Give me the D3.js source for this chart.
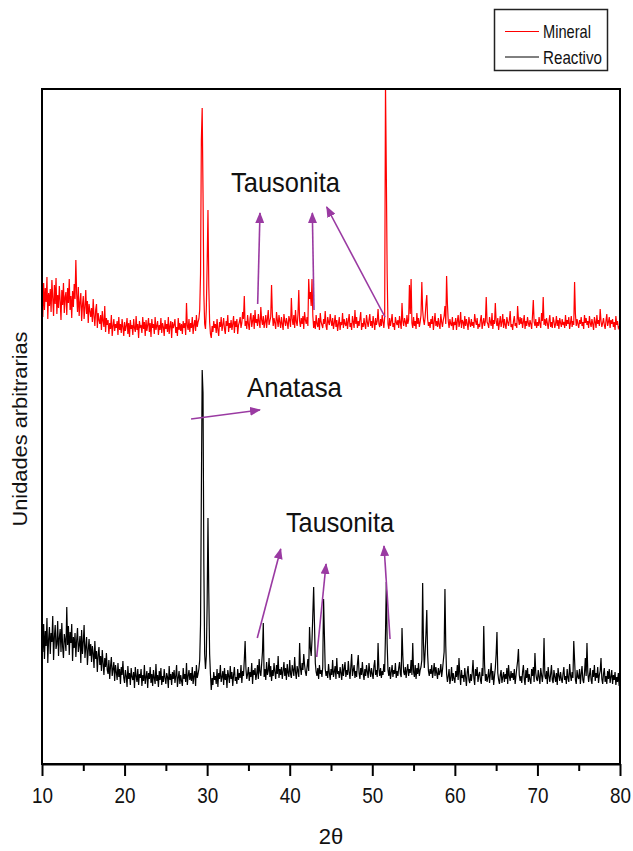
<!DOCTYPE html>
<html><head><meta charset="utf-8">
<script src="https://cdn.jsdelivr.net/npm/d3@7"></script>
<style>html,body{margin:0;padding:0;background:#fff;} svg{display:block}</style>
</head><body>
<svg id="chart" width="633" height="851"></svg>
<script>
// ---- data ----
const twoThetaStart = 10, twoThetaStep = 0.1;
const xDomain = [10, 80];
const xTicks = [10, 20, 30, 40, 50, 60, 70, 80];
const xMinorTicks = [15, 25, 35, 45, 55, 65, 75];
const seriesNames = ["Mineral", "Reactivo"];
const seriesColors = ["#ff0000", "#000000"];
const mineralOffset = 350;
const yDomain = [0, 675];

// Mineral (red), 10.0 .. 80.0 every 0.1
const mineral = [
118,97,131,104,126,112,137,95,121,108,
125,102,134,116,98,129,110,136,100,119,
106,128,113,94,124,109,131,101,117,122,
99,126,111,135,104,118,96,123,107,130,
115,154,120,102,127,98,112,121,93,109,
118,95,107,124,100,113,91,110,103,97,
106,92,115,98,88,104,110,86,101,94,
90,99,84,103,93,87,108,82,96,89,
94,80,91,85,99,78,88,95,83,90,
86,93,79,97,84,90,81,95,87,78,
92,83,88,96,80,91,77,94,85,89,
79,95,86,82,98,84,90,76,93,87,
88,81,97,85,92,78,94,83,89,96,
82,91,77,95,86,90,80,97,84,88,
93,79,89,84,96,81,91,87,78,94,
85,90,82,97,80,88,93,76,92,86,
89,95,81,87,78,96,84,91,83,90,
80,93,86,91,79,111,88,84,95,82,
91,86,97,80,89,94,83,99,87,92,
95,104,140,274,306,221,120,90,85,105,
150,204,128,92,80,76,88,82,93,86,
90,81,95,84,78,92,87,97,83,89,
96,85,80,93,88,99,82,91,86,94,
84,90,98,81,93,87,95,80,89,92,
97,86,91,102,95,118,88,93,85,99,
90,84,96,101,87,93,99,85,104,91,
95,88,100,92,86,107,94,89,98,86,
92,99,86,95,104,89,93,97,129,100,
88,96,91,85,102,94,87,99,92,86,
97,90,84,100,93,88,96,91,85,98,
94,87,116,95,89,99,86,104,92,88,
100,124,93,87,96,90,98,85,102,94,
90,97,88,135,115,122,108,135,98,86,
93,85,99,90,87,96,84,101,92,89,
86,95,90,103,88,84,97,92,89,100,
93,88,96,85,91,99,87,94,83,90,
97,84,92,89,101,86,95,90,88,96,
85,93,100,87,91,84,98,92,86,104,
90,97,86,93,88,95,102,84,91,87,
96,89,85,99,92,87,94,100,88,93,
86,98,91,84,96,89,93,105,90,87,
95,88,99,92,86,97,330,241,141,90,
85,96,88,93,100,87,91,84,97,92,
89,94,86,98,91,85,111,93,88,96,
92,87,99,90,94,129,100,135,91,86,
97,88,93,85,101,90,96,87,92,99,
132,104,94,89,97,110,119,95,88,92,
86,95,90,98,84,92,101,88,93,87,
96,89,85,100,92,87,94,98,108,90,
138,110,93,86,95,90,88,97,84,92,
89,96,84,93,99,87,91,102,86,94,
92,85,98,88,95,90,84,97,91,87,
95,88,92,86,100,93,89,96,85,90,
87,94,99,85,91,96,88,93,117,92,
90,86,97,92,88,101,85,94,90,111,
93,88,96,84,91,98,87,92,100,86,
95,89,85,97,92,88,94,103,87,90,
84,93,98,88,91,86,108,95,89,97,
90,96,86,92,99,85,93,88,97,91,
87,94,90,85,98,114,92,88,95,86,
92,88,97,90,86,101,93,117,89,95,
88,96,91,85,93,99,87,92,86,97,
93,86,90,98,88,94,85,96,91,87,
95,89,92,86,99,88,94,90,97,85,
91,98,87,93,89,132,100,88,95,90,
86,94,90,97,88,92,85,99,91,96,
89,93,86,98,91,87,95,90,84,97,
92,86,99,90,94,88,105,93,87,91,
96,89,85,93,100,88,92,97,86,94,
90,95,87,92,84,98,89,93,86,88,
80
];

// Reactivo (black), 10.0 .. 80.0 every 0.1
const reactivo = [
128,112,140,105,133,118,146,101,125,137,
110,131,122,148,104,127,139,115,120,143,
108,126,135,112,141,117,106,130,124,113,
157,119,138,109,132,121,140,103,127,116,
131,107,124,136,112,119,128,101,134,110,
122,139,106,117,127,99,114,125,108,120,
102,118,111,96,123,105,113,92,109,117,
99,108,93,114,101,89,106,97,111,94,
90,104,85,98,107,88,95,102,83,99,
92,84,101,87,95,80,97,89,103,86,
81,94,88,77,98,85,91,79,96,87,
84,92,76,97,88,82,95,79,90,86,
95,78,89,83,99,80,87,93,76,91,
85,97,81,90,78,94,86,80,100,83,
89,77,93,84,96,79,88,82,95,86,
80,91,87,76,98,84,90,79,92,85,
94,81,88,99,77,86,93,80,89,83,
78,96,85,90,82,101,79,88,94,84,
91,83,97,80,88,93,78,99,86,90,
95,104,140,272,394,371,200,110,95,108,
160,246,171,110,90,74,86,79,92,84,
88,80,95,77,91,85,99,82,87,93,
79,96,84,90,76,94,88,81,98,85,
92,78,89,97,83,87,80,95,84,91,
86,99,81,93,88,104,123,95,85,90,
97,83,92,87,101,80,94,89,96,84,
90,99,85,105,92,88,100,112,141,87,
95,84,102,89,93,106,87,98,83,94,
88,101,92,85,99,90,108,86,95,89,
97,85,93,102,88,96,84,100,91,87,
104,90,86,99,94,88,107,92,85,98,
93,87,121,96,89,101,94,110,99,92,
88,97,105,93,137,116,108,124,150,177,
140,101,92,88,96,85,99,90,94,87,
97,165,130,95,88,93,86,100,91,84,
95,89,104,87,92,98,85,106,90,93,
86,97,91,84,100,88,95,102,87,94,
89,103,92,85,97,110,88,94,99,86,
93,87,100,109,91,85,96,89,102,90,
84,95,88,99,92,86,101,93,87,96,
90,85,98,104,89,94,87,121,95,88,
96,86,93,89,100,92,131,182,120,94,
88,97,85,92,99,87,94,90,101,86,
93,88,96,102,90,87,136,108,92,89,
97,86,94,100,88,95,91,104,89,121,
92,87,99,85,96,90,101,88,94,97,
104,181,120,96,112,130,154,110,93,88,
95,90,99,86,93,101,88,97,91,85,
96,89,92,100,87,94,103,112,175,118,
90,82,88,95,80,86,97,83,91,85,
81,93,87,99,84,106,90,79,94,86,
89,82,96,87,78,92,98,84,81,90,
83,91,104,86,79,95,88,97,82,89,
92,84,80,96,88,138,99,83,90,82,
87,95,81,90,101,84,93,79,88,96,
110,132,91,84,80,89,94,81,87,92,
82,90,85,96,80,99,88,83,93,86,
91,84,95,80,88,96,103,115,89,83,
88,81,92,99,85,79,94,86,96,82,
90,84,80,95,88,97,82,111,91,85,
83,94,87,80,96,89,82,92,126,88,
85,93,80,97,88,82,90,99,84,81,
94,87,82,91,79,96,88,83,92,85,
81,90,97,84,88,80,95,86,82,100,
89,83,92,86,123,104,84,80,94,87,
85,95,80,90,98,84,81,91,106,88,
121,92,82,89,96,84,80,94,87,99,
83,91,86,97,81,89,93,106,85,80,
90,96,82,88,80,93,85,95,81,87,
94,80,89,84,92,79,87,82,91,78,
84
];

// annotations in data units (2θ, plot intensity)
const labelTexts = ["Tausonita", "Anatasa", "Tausonita"];
const labelX = [39.49, 40.58, 46.09];
const labelY = [572, 367, 232];
const labelWidths = [109, 95, 108];
const arrowFromX = [36.12, 42.94, 51.54, 28.05, 36.07, 43.27, 52.15];
const arrowFromY = [460, 454, 447, 345, 126, 107, 125];
const arrowToX   = [36.40, 42.74, 44.48, 36.40, 38.91, 44.40, 51.42];
const arrowToY   = [551, 551, 557, 354, 215, 200, 218];

// ---- drawing ----
const W = 633, H = 851;
const margin = {left: 42, right: 13, top: 89, bottom: 87};
const iw = W - margin.left - margin.right;
const ih = H - margin.top - margin.bottom;
const font = "'Liberation Sans', Arial, sans-serif";

const svg = d3.select("#chart");
const g = svg.append("g").attr("transform", `translate(${margin.left},${margin.top})`);
const x = d3.scaleLinear().domain(xDomain).range([0, iw]);
const y = d3.scaleLinear().domain(yDomain).range([ih, 0]);

svg.append("defs").append("clipPath").attr("id", "clip")
  .append("rect").attr("x", 0).attr("y", 0).attr("width", iw).attr("height", ih);
svg.select("defs").append("marker")
  .attr("id", "ah").attr("markerUnits", "userSpaceOnUse")
  .attr("markerWidth", 11).attr("markerHeight", 9)
  .attr("refX", 10).attr("refY", 4.5).attr("orient", "auto")
  .append("path").attr("d", "M0,0 L11,4.5 L0,9 Z").attr("fill", "#9a3aa2");

const line = d3.line().x(d => x(d[0])).y(d => y(d[1]));
const mineralPts = mineral.map((v, i) => [twoThetaStart + i * twoThetaStep, v + mineralOffset]);
const reactivoPts = reactivo.map((v, i) => [twoThetaStart + i * twoThetaStep, v]);

const plot = g.append("g").attr("clip-path", "url(#clip)");
plot.append("path").datum(reactivoPts).attr("d", line)
  .attr("fill", "none").attr("stroke", seriesColors[1]).attr("stroke-width", 1.2);
plot.append("path").datum(mineralPts).attr("d", line)
  .attr("fill", "none").attr("stroke", seriesColors[0]).attr("stroke-width", 1.2);

// frame
g.append("rect").attr("x", 0).attr("y", 0).attr("width", iw).attr("height", ih)
  .attr("fill", "none").attr("stroke", "#000").attr("stroke-width", 2);

// x axis
const ax = g.append("g").attr("transform", `translate(0,${ih})`)
  .call(d3.axisBottom(x).tickValues(xTicks).tickSize(12).tickSizeOuter(0).tickFormat(d3.format("d")));
ax.select(".domain").attr("stroke-width", 2);
ax.selectAll(".tick line").attr("stroke-width", 2);
ax.selectAll(".tick text").attr("y", 39).attr("dy", null)
  .attr("font-family", font).attr("font-size", 22).attr("fill", "#111")
  .attr("textLength", 21).attr("lengthAdjust", "spacingAndGlyphs");
const axm = g.append("g").attr("transform", `translate(0,${ih})`)
  .call(d3.axisBottom(x).tickValues(xMinorTicks).tickSize(7).tickSizeOuter(0).tickFormat(""));
axm.select(".domain").remove();
axm.selectAll(".tick line").attr("stroke-width", 2);

// axis titles
svg.append("text").attr("x", margin.left + iw / 2).attr("y", 844)
  .attr("text-anchor", "middle").attr("font-family", font).attr("font-size", 22).attr("fill", "#111")
  .text("2θ");
svg.append("text").attr("transform", "translate(27,429) rotate(-90)")
  .attr("text-anchor", "middle").attr("font-family", font).attr("font-size", 20).attr("fill", "#111")
  .attr("textLength", 195).attr("lengthAdjust", "spacingAndGlyphs")
  .text("Unidades arbitrarias");

// annotations
const arrows = g.append("g");
arrowFromX.forEach((fx, i) => {
  arrows.append("line")
    .attr("x1", x(fx)).attr("y1", y(arrowFromY[i]))
    .attr("x2", x(arrowToX[i])).attr("y2", y(arrowToY[i]))
    .attr("stroke", "#9a3aa2").attr("stroke-width", 1.6).attr("marker-end", "url(#ah)");
});
labelTexts.forEach((t, i) => {
  g.append("text").attr("x", x(labelX[i])).attr("y", y(labelY[i]))
    .attr("text-anchor", "middle").attr("font-family", font).attr("font-size", 28).attr("fill", "#111")
    .attr("textLength", labelWidths[i]).attr("lengthAdjust", "spacingAndGlyphs")
    .text(t);
});

// legend
const lg = svg.append("g");
lg.append("rect").attr("x", 494.5).attr("y", 9.5).attr("width", 113).attr("height", 61)
  .attr("fill", "#fff").attr("stroke", "#222").attr("stroke-width", 1.5);
const legendTextLen = [48, 59];
seriesNames.forEach((n, i) => {
  const yy = 31.5 + i * 25.5;
  lg.append("line").attr("x1", 505).attr("x2", 539).attr("y1", yy).attr("y2", yy)
    .attr("stroke", seriesColors[i]).attr("stroke-width", 1);
  lg.append("text").attr("x", 543).attr("y", yy + 6.5)
    .attr("font-family", font).attr("font-size", 19).attr("fill", "#111")
    .attr("textLength", legendTextLen[i]).attr("lengthAdjust", "spacingAndGlyphs")
    .text(n);
});
</script>
</body></html>
